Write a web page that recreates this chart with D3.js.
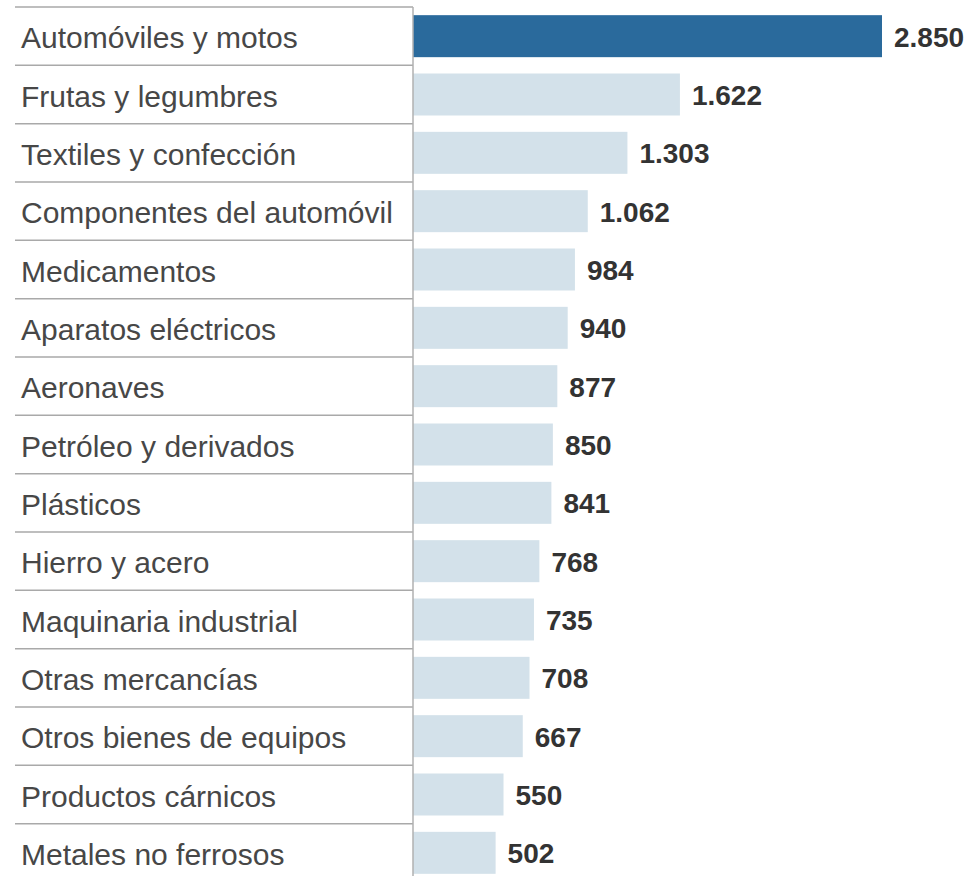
<!DOCTYPE html>
<html>
<head>
<meta charset="utf-8">
<script src="https://cdn.jsdelivr.net/npm/d3@7"></script>
<style>
  body { margin: 0; background: #fff; }
</style>
</head>
<body>
<div id="chart"></div>
<script>
// Categories and values
const categories = [
  "Automóviles y motos", "Frutas y legumbres", "Textiles y confección",
  "Componentes del automóvil", "Medicamentos", "Aparatos eléctricos",
  "Aeronaves", "Petróleo y derivados", "Plásticos", "Hierro y acero",
  "Maquinaria industrial", "Otras mercancías", "Otros bienes de equipos",
  "Productos cárnicos", "Metales no ferrosos"
];
const values = [2850, 1622, 1303, 1062, 984, 940, 877, 850, 841, 768, 735, 708, 667, 550, 502];
const valueLabels = ["2.850", "1.622", "1.303", "1.062", "984", "940", "877", "850", "841", "768", "735", "708", "667", "550", "502"];

const data = categories.map((c, i) => ({ cat: c, value: values[i], label: valueLabels[i] }));

const width = 970, height = 876;
const axisX = 413;

const svg = d3.select("#chart")
  .append("svg")
  .attr("width", width)
  .attr("height", height);

// Scales
const y = d3.scaleBand()
  .domain(categories)
  .range([7, 882])
  .paddingInner(0.28)
  .paddingOuter(0.14);

const x = d3.scaleLinear()
  .domain([0, d3.max(values)])
  .range([axisX, 882]);

const gap = (y.step() - y.bandwidth()) / 2;

// Row separators on the label side
svg.selectAll("line.sep")
  .data(categories)
  .join("line")
  .attr("class", "sep")
  .attr("x1", 15)
  .attr("x2", axisX)
  .attr("y1", d => y(d) - gap)
  .attr("y2", d => y(d) - gap)
  .attr("stroke", "#a9a9a9")
  .attr("stroke-width", 1.5);

// Bars
svg.selectAll("rect.bar")
  .data(data)
  .join("rect")
  .attr("class", "bar")
  .attr("x", x(0))
  .attr("y", d => y(d.cat))
  .attr("width", d => x(d.value) - x(0))
  .attr("height", y.bandwidth())
  .attr("fill", (d, i) => i === 0 ? "#2a6a9c" : "#d3e1ea");

// Vertical axis line
svg.append("line")
  .attr("x1", axisX)
  .attr("x2", axisX)
  .attr("y1", y.range()[0])
  .attr("y2", height)
  .attr("stroke", "#b0b0b0")
  .attr("stroke-width", 1.5);

// Category labels
svg.selectAll("text.cat")
  .data(data)
  .join("text")
  .attr("class", "cat")
  .attr("x", 21)
  .attr("y", d => y(d.cat) + y.bandwidth() / 2 + 1.5)
  .attr("dominant-baseline", "central")
  .style("font-family", "'Liberation Sans', Arial, sans-serif")
  .style("font-size", "30px")
  .style("fill", "#474747")
  .text(d => d.cat);

// Value labels
svg.selectAll("text.val")
  .data(data)
  .join("text")
  .attr("class", "val")
  .attr("x", d => x(d.value) + 12)
  .attr("y", d => y(d.cat) + y.bandwidth() / 2 + 1)
  .attr("dominant-baseline", "central")
  .style("font-family", "'Liberation Sans', Arial, sans-serif")
  .style("font-size", "28px")
  .style("font-weight", "bold")
  .style("fill", "#333")
  .text(d => d.label);
</script>
</body>
</html>
